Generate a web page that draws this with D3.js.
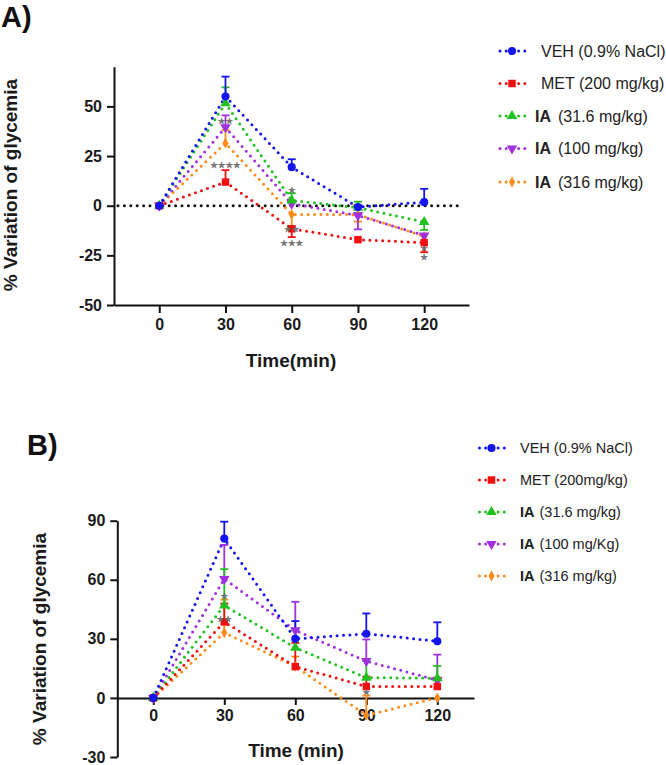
<!DOCTYPE html>
<html><head><meta charset="utf-8">
<script src="https://cdn.jsdelivr.net/npm/d3@7"></script>
<style>body{margin:0;background:#fff}svg{display:block;font-family:"Liberation Sans",Arial,sans-serif}</style>
</head><body><svg id="c" width="666" height="765"></svg>
<script>
// ---------- data ----------
const times = [0, 30, 60, 90, 120];
const seriesKeys = ["VEH", "MET", "IA31", "IA100", "IA316"];
const seriesColors = ["#1414f0", "#f01010", "#20c020", "#a030e0", "#ff8c1a"];
const seriesSymbols = ["circle", "square", "triangle", "triangleDown", "diamond"];

// Panel A values (% variation) and signed SEM (sign = drawing direction)
const vehA = [0, 55, 19.4, -0.7, 1.8];
const vehAErr = [0, 10, 4, -3, 6.7];
const metA = [0, 11.9, -11.6, -17.1, -18.6];
const metAErr = [0, 6, -4.2, 0, -4.8];
const ia31A = [0, 51.6, 2.7, -1, -8.2];
const ia31AErr = [0, 8, 3.6, 3, -4];
const ia100A = [0, 39.5, 1, -4.9, -15];
const ia100AErr = [0, 6, 0, -7, 0];
const ia316A = [0, 31.5, -4.4, -4.5, -15.5];
const ia316AErr = [0, 6.5, -6, -3.5, 0];

// Panel B
const vehB = [0, 80.9, 30, 32.6, 28.8];
const vehBErr = [0, 8.6, 9, 10.3, 9.6];
const metB = [0, 38.6, 15.9, 5.8, 5.8];
const metBErr = [0, 9.3, 12, 5, 4.5];
const ia31B = [0, 47, 25.5, 10.3, 10];
const ia31BErr = [0, 18.4, 9, 8.4, 6.2];
const ia100B = [0, 60.4, 34.3, 18.7, 9];
const ia100BErr = [0, 17.3, 14.5, 11, 13];
const ia316B = [0, 33.1, 16, -8.8, 0];
const ia316BErr = [0, 16.8, 5, 10, 0];

const yTicksA = [-50, -25, 0, 25, 50];
const yTicksB = [-30, 0, 30, 60, 90];

const legendBoldA = ["", "", "IA", "IA", "IA"];
const legendTextA = ["VEH (0.9% NaCl)", "MET (200 mg/kg)", "(31.6 mg/kg)", "(100 mg/kg)", "(316 mg/kg)"];
const legendBoldB = ["", "", "IA", "IA", "IA"];
const legendTextB = ["VEH (0.9% NaCl)", "MET (200mg/kg)", "(31.6 mg/kg)", "(100 mg/Kg)", "(316 mg/kg)"];

// significance marks: x, y (data units), label
const sigAX = [30, 30, 60, 60, 60, 120, 120];
const sigAY = [42.6, 20.5, 7.9, -11.5, -19, -21.5, -26];
const sigAText = ["★★", "★★★★", "★", "★★", "★★★", "★", "★"];
const sigBX = [30, 30, 90];
const sigBY = [51.9, 40.3, 2.9];
const sigBText = ["★", "★★", "★"];

// ---------- drawing ----------
const svg = d3.select("#c");

function symbolPath(type, size) {
  if (type === "circle") return d3.symbol(d3.symbolCircle, size)();
  if (type === "square") return d3.symbol(d3.symbolSquare, size)();
  if (type === "triangle") return d3.symbol(d3.symbolTriangle, size)();
  if (type === "triangleDown") return d3.symbol(d3.symbolTriangle, size)();
  return d3.symbol(d3.symbolDiamond, size)();
}
const symSize = {circle: 52, square: 56, triangle: 48, triangleDown: 48, diamond: 34};

function panel(cfg) {
  const g = svg.append("g");
  const x = d3.scaleLinear().domain(cfg.xDomain).range(cfg.xRange);
  const y = d3.scaleLinear().domain(cfg.yDomain).range(cfg.yRange);

  // axes
  const yAxis = d3.axisLeft(y).tickValues(cfg.yTicks).tickSize(7).tickSizeOuter(0).tickPadding(5)
    .tickFormat(d => String(d));
  const ga = g.append("g").attr("transform", `translate(${cfg.xRange[0]},0)`).call(yAxis);
  const xAxis = d3.axisBottom(x).tickValues(times).tickSize(cfg.xTickSize).tickSizeOuter(0).tickPadding(cfg.xTickPad)
    .tickFormat(d => String(d));
  const gx = g.append("g").attr("transform", `translate(0,${y(cfg.xAxisAt)})`).call(xAxis);
  [ga, gx].forEach(a => {
    a.select(".domain").attr("stroke", "#111").attr("stroke-width", 2);
    a.selectAll(".tick line").attr("stroke", "#111").attr("stroke-width", 2);
    a.selectAll(".tick text").attr("font-size", 16).attr("font-weight", "bold").attr("fill", "#1a1a1a")
      .attr("font-family", "Liberation Sans, Arial, sans-serif");
  });

  if (cfg.zeroLine) {
    g.append("line").attr("x1", cfg.zeroLine[0]).attr("x2", cfg.zeroLine[1])
      .attr("y1", y(0)).attr("y2", y(0))
      .attr("stroke", "#111").attr("stroke-width", 3).attr("stroke-linecap", "round")
      .attr("stroke-dasharray", "0,6.4");
  }

  const line = d3.line().x((d, i) => x(times[i])).y(d => y(d));
  const order = [4, 3, 2, 1, 0];
  order.forEach(s => {
    g.append("path").attr("d", line(cfg.values[s])).attr("fill", "none")
      .attr("stroke", seriesColors[s]).attr("stroke-width", 3).attr("stroke-linecap", "round")
      .attr("stroke-dasharray", "0,6.4");
  });
  order.forEach(s => {
    cfg.errs[s].forEach((e, i) => {
      if (!e) return;
      const v = cfg.values[s][i];
      const xx = x(times[i]);
      g.append("line").attr("x1", xx).attr("x2", xx).attr("y1", y(v)).attr("y2", y(v + e))
        .attr("stroke", seriesColors[s]).attr("stroke-width", 1.8);
      g.append("line").attr("x1", xx - 4).attr("x2", xx + 4).attr("y1", y(v + e)).attr("y2", y(v + e))
        .attr("stroke", seriesColors[s]).attr("stroke-width", 1.8);
    });
  });
  order.forEach(s => {
    cfg.values[s].forEach((v, i) => {
      g.append("path").attr("d", symbolPath(seriesSymbols[s], symSize[seriesSymbols[s]]))
        .attr("transform", `translate(${x(times[i])},${y(v)})` + (seriesSymbols[s] === "triangleDown" ? " rotate(180)" : ""))
        .attr("fill", seriesColors[s]);
    });
  });

  // significance marks
  cfg.sigX.forEach((sx, i) => {
    g.append("text").attr("x", x(sx)).attr("y", y(cfg.sigY[i])).attr("dy", "0.35em")
      .attr("text-anchor", "middle").attr("font-family", "DejaVu Sans")
      .attr("font-size", 8.5).attr("fill", "#7a7a7a").attr("stroke", "#444").attr("stroke-width", 0.3)
      .text(cfg.sigText[i]);
  });

  // axis titles
  g.append("text").attr("transform", `translate(${cfg.yTitle[0]},${cfg.yTitle[1]}) rotate(-90)`)
    .attr("text-anchor", "middle").attr("font-weight", "bold").attr("font-size", 19).attr("fill", "#1a1a1a")
    .text("% Variation of glycemia");
  g.append("text").attr("x", cfg.xTitle[0]).attr("y", cfg.xTitle[1])
    .attr("text-anchor", "middle").attr("font-weight", "bold").attr("font-size", 19).attr("fill", "#1a1a1a")
    .text(cfg.xTitleText);
  g.append("text").attr("x", cfg.label[0]).attr("y", cfg.label[1])
    .attr("font-weight", "bold").attr("font-size", 29).attr("fill", "#111").text(cfg.labelText);

  // legend
  cfg.legendY.forEach((ly, s) => {
    const lg = g.append("g").attr("transform", `translate(${cfg.legendX},${ly})`);
    lg.append("line").attr("x1", -12).attr("x2", 13).attr("y1", 0).attr("y2", 0)
      .attr("stroke", seriesColors[s]).attr("stroke-width", 3).attr("stroke-linecap", "round")
      .attr("stroke-dasharray", "0,6.2");
    lg.append("path").attr("d", symbolPath(seriesSymbols[s], symSize[seriesSymbols[s]]))
      .attr("transform", seriesSymbols[s] === "triangleDown" ? "rotate(180)" : null)
      .attr("fill", seriesColors[s]);
    const t = lg.append("text").attr("x", cfg.legendTextDx).attr("dy", "0.36em")
      .attr("font-size", cfg.legendFont).attr("fill", "#222");
    if (cfg.legendBold[s]) {
      t.attr("x", cfg.legendTextDx - (cfg.legendBoldShift || 0));
      t.append("tspan").attr("font-weight", "bold").text(cfg.legendBold[s]);
      t.append("tspan").attr("dx", cfg.legendGap).text(cfg.legendText[s]);
    } else {
      t.text(cfg.legendText[s]);
    }
  });
}

panel({
  xDomain: [-20.5, 140.3], xRange: [114, 469],
  yDomain: [-50, 70], yRange: [305, 66.7],
  yTicks: yTicksA, xAxisAt: -50, xTickSize: 8, xTickPad: 6,
  zeroLine: [118, 463],
  values: [vehA, metA, ia31A, ia100A, ia316A],
  errs: [vehAErr, metAErr, ia31AErr, ia100AErr, ia316AErr],
  sigX: sigAX, sigY: sigAY, sigText: sigAText,
  yTitle: [17, 185], xTitle: [291, 367], xTitleText: "Time(min)",
  label: [1, 27], labelText: "A)",
  legendX: 512, legendY: [51, 83.5, 116, 148.5, 182],
  legendTextDx: 29, legendFont: 16, legendBold: legendBoldA, legendText: legendTextA,
  legendBoldShift: 6, legendGap: 7
});

panel({
  xDomain: [-15.2, 135.5], xRange: [117.3, 474],
  yDomain: [-30, 90], yRange: [757, 520.7],
  yTicks: yTicksB, xAxisAt: 0, xTickSize: 7, xTickPad: 5,
  zeroLine: null,
  values: [vehB, metB, ia31B, ia100B, ia316B],
  errs: [vehBErr, metBErr, ia31BErr, ia100BErr, ia316BErr],
  sigX: sigBX, sigY: sigBY, sigText: sigBText,
  yTitle: [46, 639], xTitle: [296, 757], xTitleText: "Time (min)",
  label: [27, 455], labelText: "B)",
  legendX: 491.5, legendY: [448, 480, 512, 544, 576],
  legendTextDx: 28.5, legendFont: 14.5, legendBold: legendBoldB, legendText: legendTextB,
  legendBoldShift: 0, legendGap: 5
});
</script></body></html>
